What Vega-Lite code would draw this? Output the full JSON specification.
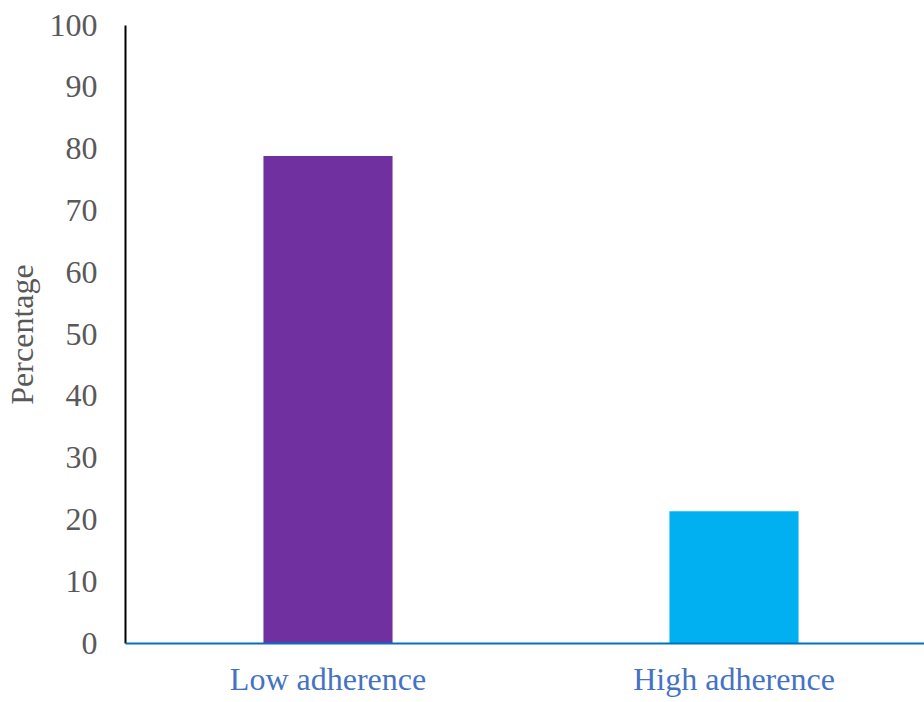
{
  "$schema": "https://vega.github.io/schema/vega-lite/v6.json",
  "autosize": "none",
  "padding": {"left": 125, "top": 25, "right": 0, "bottom": 59},
  "width": 812,
  "height": 618,
  "background": "white",
  "config": {"view": {"stroke": null}, "font": "Liberation Serif"},
  "data": {"values": [
    {"group": "Low adherence", "pct": 78.8},
    {"group": "High adherence", "pct": 21.3}
  ]},
  "mark": {"type": "bar"},
  "encoding": {
    "x": {"field": "group", "type": "nominal", "sort": null,
      "scale": {"paddingInner": 0.682, "paddingOuter": 0.341},
      "axis": {"title": null, "labelAngle": 0, "ticks": false, "domainColor": "#0070C0", "domainWidth": 2, "zindex": 1,
        "labelColor": "#4472C4", "labelFont": "Liberation Serif", "labelFontSize": 32, "labelPadding": 21, "labelLimit": 500}},
    "y": {"field": "pct", "type": "quantitative",
      "scale": {"domain": [0, 100]},
      "axis": {"title": "Percentage", "grid": false, "ticks": false, "values": [0,10,20,30,40,50,60,70,80,90,100], "labelOverlap": false,
        "domainColor": "black", "domainWidth": 2, "labelColor": "#595959", "labelFont": "Liberation Serif", "labelFontSize": 32,
        "labelPadding": 28, "titleColor": "#595959", "titleFont": "Liberation Serif", "titleFontSize": 32, "titleFontWeight": "normal", "titlePadding": 10}},
    "color": {"field": "group", "type": "nominal", "legend": null,
      "scale": {"domain": ["Low adherence", "High adherence"], "range": ["#7030A0", "#00B0F0"]}}
  }
}
